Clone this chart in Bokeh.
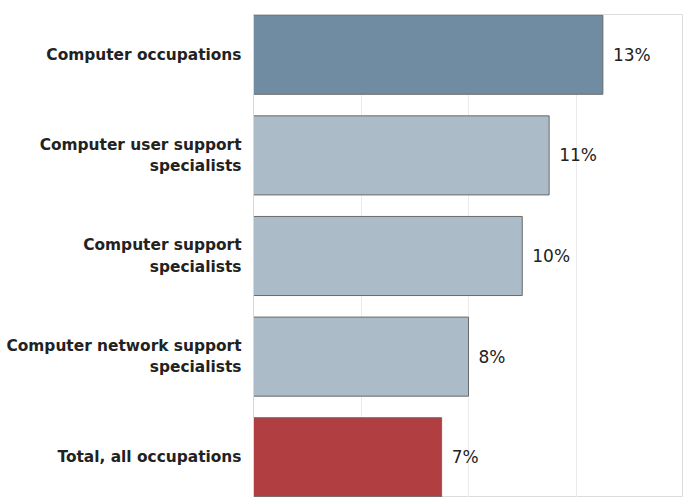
from bokeh.plotting import figure
from bokeh.models import ColumnDataSource, Range1d, FixedTicker
from bokeh.core.properties import value
from bokeh.embed import file_html
from bokeh.resources import INLINE

categories = [
    "Computer occupations",
    "Computer user support\nspecialists",
    "Computer support\nspecialists",
    "Computer network support\nspecialists",
    "Total, all occupations",
]
growth = [13, 11, 10, 8, 7]
labels = ["13%", "11%", "10%", "8%", "7%"]
colors = ["#6f8ca3", "#abbcc8", "#abbcc8", "#abbcc8", "#b13f42"]
grid_ticks = [4, 8, 12]

pos = list(range(len(categories)))
src = ColumnDataSource(dict(y=pos, v=growth, lab=labels, c=colors))

p = figure(width=683, height=497, output_backend="svg", toolbar_location=None,
           x_range=Range1d(0, 16), y_range=Range1d(4.40, -0.40),
           min_border_left=253, min_border_top=14, min_border_bottom=0, min_border_right=0)
p.background_fill_color = "white"
p.border_fill_color = "white"
p.outline_line_color = "#dcdcdc"

p.hbar(y="y", left=0, right="v", height=0.786, source=src, fill_color="c",
       line_color="#6a6a6a", line_width=1)
p.text(x="v", y="y", text="lab", source=src, x_offset=10, text_align="left",
       text_baseline="middle", text_font=value("DejaVu Sans"), text_font_size="17px",
       text_color="#222222")

p.xaxis.visible = False
p.xaxis.ticker = FixedTicker(ticks=grid_ticks)
p.xgrid.ticker = FixedTicker(ticks=grid_ticks)
p.xgrid.grid_line_color = "#ebebeb"
p.ygrid.visible = False

ax = p.yaxis[0]
ax.ticker = FixedTicker(ticks=pos)
ax.major_label_overrides = {i: c for i, c in enumerate(categories)}
ax.major_label_text_font = "DejaVu Sans"
ax.major_label_text_font_style = "bold"
ax.major_label_text_font_size = "15.4px"
ax.major_label_text_color = "#222222"
ax.major_label_standoff = 6
ax.major_tick_line_color = None
ax.minor_tick_line_color = None
ax.axis_line_color = "#d8d8d8"

open("out.html", "w").write(file_html(p, INLINE))
